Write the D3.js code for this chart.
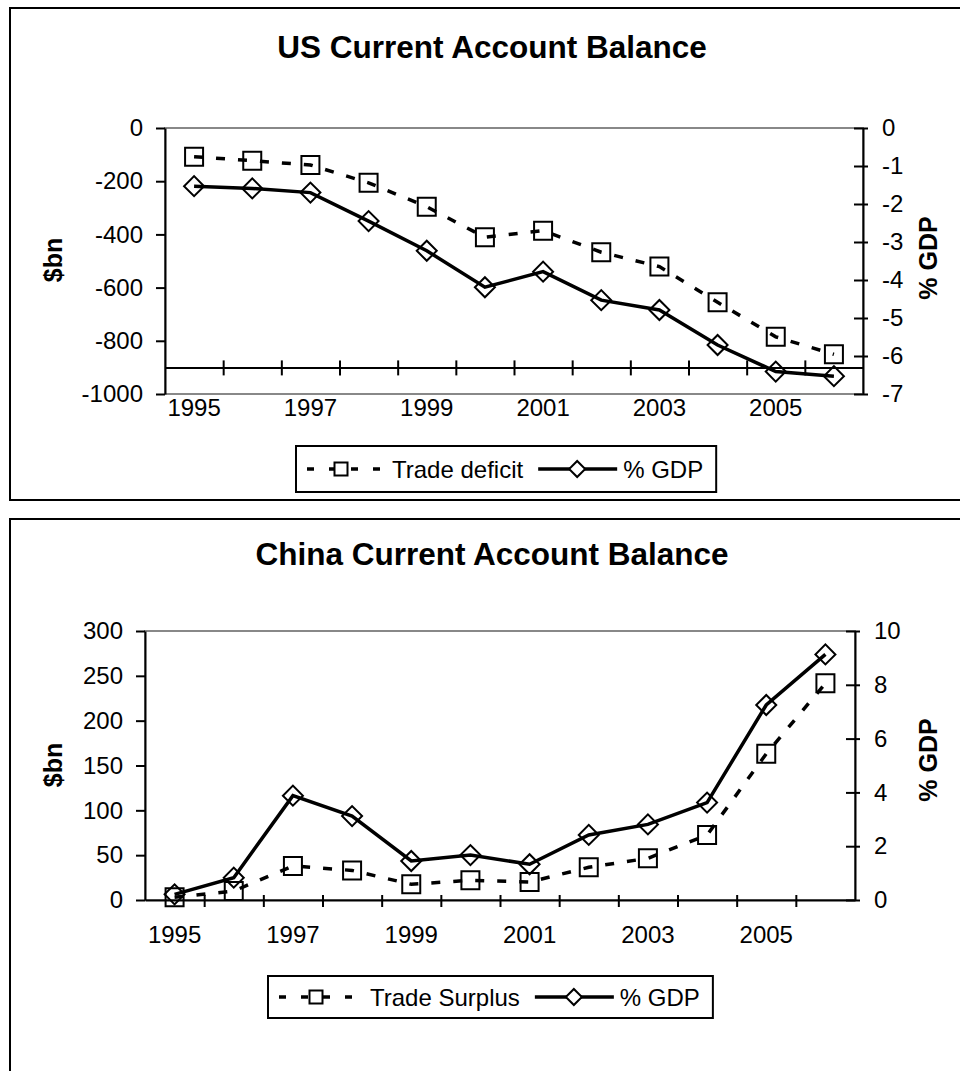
<!DOCTYPE html>
<html>
<head>
<meta charset="utf-8">
<script src="https://cdn.jsdelivr.net/npm/d3@7"></script>
<style>
body { margin: 0; background: #fff; }
svg { display: block; font-family: "Liberation Sans", Arial, sans-serif; }
</style>
</head>
<body>
<svg width="960" height="1071"></svg>
<script>
// data
const years = ['1995', '1996', '1997', '1998', '1999', '2000', '2001', '2002', '2003', '2004', '2005', '2006'];
const labelYears = ['1995', '1997', '1999', '2001', '2003', '2005'];

const usTradeDeficit = [-108, -123, -139, -206, -296, -411, -386, -467, -521, -655, -785, -851];
const usPctGdp = [-1.53, -1.59, -1.70, -2.45, -3.23, -4.19, -3.78, -4.53, -4.79, -5.71, -6.41, -6.53];
const usLeftTicks = [0, -200, -400, -600, -800, -1000];
const usRightTicks = [0, -1, -2, -3, -4, -5, -6, -7];

const chinaTradeSurplus = [3, 10, 38, 33, 17.5, 22, 20, 36.5, 46.5, 72.5, 163, 241.6];
const chinaPctGdp = [0.21, 0.83, 3.88, 3.12, 1.45, 1.67, 1.33, 2.42, 2.81, 3.62, 7.25, 9.13];
const chinaLeftTicks = [0, 50, 100, 150, 200, 250, 300];
const chinaRightTicks = [0, 2, 4, 6, 8, 10];

const svg = d3.select('svg');
const square = d3.symbol(d3.symbolSquare, 324);
const diamond = d3.symbol(d3.symbolSquare, 200);
const plain = (d) => String(d);

function styleAxis(sel) {
    sel.selectAll('path, line').attr('stroke', '#000').attr('stroke-width', 2);
    sel.selectAll('text').attr('font-size', 24).attr('fill', '#000');
    sel.attr('font-family', null);
}

function drawPanel(p) {
    const g = svg.append('g');

    g.append('rect')
        .attr('x', 10).attr('y', p.frameTop)
        .attr('width', 960).attr('height', p.frameHeight)
        .attr('fill', 'none').attr('stroke', '#000').attr('stroke-width', 2);

    g.append('text')
        .attr('x', 492).attr('y', p.titleY)
        .attr('text-anchor', 'middle')
        .attr('font-size', 31.5).attr('font-weight', 'bold')
        .text(p.title);

    const x = d3.scaleBand().domain(years).range([p.left, p.right]);
    const xc = (d) => x(d) + x.bandwidth() / 2;
    const xb = d3.scaleLinear().domain([0, years.length]).range([p.left, p.right]);
    const yL = d3.scaleLinear().domain(p.leftDomain).range([p.bottom, p.top]);
    const yR = d3.scaleLinear().domain(p.rightDomain).range([p.bottom, p.top]);

    // grey plot area border
    g.append('rect')
        .attr('x', p.left).attr('y', p.top)
        .attr('width', p.right - p.left).attr('height', p.bottom - p.top)
        .attr('fill', 'none').attr('stroke', '#888').attr('stroke-width', 2);

    // left axis
    g.append('g')
        .attr('transform', `translate(${p.left},0)`)
        .call(d3.axisLeft(yL).tickValues(p.leftTicks).tickFormat(plain).tickSize(9).tickSizeOuter(0).tickPadding(13))
        .call(styleAxis);

    // right axis, ticks cross the line
    g.append('g')
        .attr('transform', `translate(${p.right},0)`)
        .call(d3.axisRight(yR).tickValues(p.rightTicks).tickFormat(plain).tickSize(5).tickSizeOuter(0).tickPadding(14))
        .call(styleAxis);
    g.append('g')
        .attr('transform', `translate(${p.right},0)`)
        .call(d3.axisLeft(yR).tickValues(p.rightTicks).tickSize(9).tickFormat(''))
        .call(styleAxis)
        .select('.domain').remove();

    // category axis where it crosses the value axis
    const yCross = yL(p.cross);
    g.append('g')
        .attr('transform', `translate(0,${yCross})`)
        .call(d3.axisBottom(xb).tickValues(d3.range(1, years.length)).tickSize(p.tickDown).tickSizeOuter(0).tickFormat(''))
        .call(styleAxis);
    g.append('g')
        .attr('transform', `translate(0,${yCross})`)
        .call(d3.axisTop(xb).tickValues(d3.range(1, years.length)).tickSize(p.tickUp).tickFormat(''))
        .call(styleAxis)
        .select('.domain').remove();

    // year labels below the plot
    g.append('g')
        .attr('transform', `translate(0,${p.bottom})`)
        .call(d3.axisBottom(x).tickValues(labelYears).tickSize(0).tickPadding(p.labelPad))
        .call(styleAxis)
        .select('.domain').remove();

    // axis titles
    g.append('text')
        .attr('transform', `translate(53,${p.leftTitleY}) rotate(-90)`)
        .attr('text-anchor', 'middle').attr('dominant-baseline', 'central')
        .attr('font-size', 25).attr('font-weight', 'bold')
        .text('$bn');
    g.append('text')
        .attr('transform', `translate(928,${p.rightTitleY}) rotate(-90)`)
        .attr('text-anchor', 'middle').attr('dominant-baseline', 'central')
        .attr('font-size', 25).attr('font-weight', 'bold')
        .text('% GDP');

    // trade series, dashed with squares
    const tradeLine = d3.line().x((d, i) => xc(years[i])).y((d) => yL(d));
    g.append('path')
        .datum(p.trade)
        .attr('d', tradeLine)
        .attr('fill', 'none').attr('stroke', '#000')
        .attr('stroke-width', 3.5).attr('stroke-dasharray', '9,13');
    g.append('g')
        .selectAll('path')
        .data(p.trade)
        .enter()
        .append('path')
        .attr('d', square)
        .attr('transform', (d, i) => `translate(${xc(years[i])},${yL(d)})`)
        .attr('fill', 'none').attr('stroke', '#000').attr('stroke-width', 2);

    // % GDP series, solid with diamonds
    const gdpLine = d3.line().x((d, i) => xc(years[i])).y((d) => yR(d));
    g.append('path')
        .datum(p.gdp)
        .attr('d', gdpLine)
        .attr('fill', 'none').attr('stroke', '#000').attr('stroke-width', 3.5);
    g.append('g')
        .selectAll('path')
        .data(p.gdp)
        .enter()
        .append('path')
        .attr('d', diamond)
        .attr('transform', (d, i) => `translate(${xc(years[i])},${yR(d)}) rotate(45)`)
        .attr('fill', 'none').attr('stroke', '#000').attr('stroke-width', 2);

    // legend
    const lg = g.append('g');
    const ly = p.legendY + p.legendH / 2;
    const box = lg.append('rect')
        .attr('x', p.legendX).attr('y', p.legendY)
        .attr('height', p.legendH)
        .attr('fill', '#fff').attr('stroke', '#000').attr('stroke-width', 2);
    lg.append('line')
        .attr('x1', p.legendX + 11).attr('x2', p.legendX + p.sampleLen + 11)
        .attr('y1', ly).attr('y2', ly)
        .attr('stroke', '#000').attr('stroke-width', 3.5).attr('stroke-dasharray', '7,15');
    lg.append('path')
        .attr('d', d3.symbol(d3.symbolSquare, 169))
        .attr('transform', `translate(${p.legendX + 11 + p.sampleLen / 2 - 3},${ly})`)
        .attr('fill', '#fff').attr('stroke', '#000').attr('stroke-width', 2);
    const t1 = lg.append('text')
        .attr('x', p.legendX + p.sampleLen + 22).attr('y', ly)
        .attr('dominant-baseline', 'central').attr('font-size', 24)
        .text(p.tradeName);
    const end1 = p.legendX + p.sampleLen + 22 + t1.node().getComputedTextLength();
    lg.append('line')
        .attr('x1', end1 + 15).attr('x2', end1 + 94)
        .attr('y1', ly).attr('y2', ly)
        .attr('stroke', '#000').attr('stroke-width', 3.5);
    lg.append('path')
        .attr('d', d3.symbol(d3.symbolSquare, 128))
        .attr('transform', `translate(${end1 + 54},${ly}) rotate(45)`)
        .attr('fill', '#fff').attr('stroke', '#000').attr('stroke-width', 2);
    const t2 = lg.append('text')
        .attr('x', end1 + 100).attr('y', ly)
        .attr('dominant-baseline', 'central').attr('font-size', 24)
        .text('% GDP');
    const end2 = end1 + 100 + t2.node().getComputedTextLength();
    box.attr('width', end2 + 13 - p.legendX);
}

drawPanel({
    title: 'US Current Account Balance',
    tradeName: 'Trade deficit',
    trade: usTradeDeficit, gdp: usPctGdp,
    leftDomain: [-1000, 0], rightDomain: [-7, 0],
    leftTicks: usLeftTicks, rightTicks: usRightTicks,
    cross: -900, tickUp: 7, tickDown: 8,
    frameTop: 8, frameHeight: 492, titleY: 58,
    left: 165, right: 863, top: 128, bottom: 394, labelPad: 5,
    leftTitleY: 260, rightTitleY: 258,
    legendX: 296, legendY: 446, legendH: 46, sampleLen: 74
});

drawPanel({
    title: 'China Current Account Balance',
    tradeName: 'Trade Surplus',
    trade: chinaTradeSurplus, gdp: chinaPctGdp,
    leftDomain: [0, 300], rightDomain: [0, 10],
    leftTicks: chinaLeftTicks, rightTicks: chinaRightTicks,
    cross: 0, tickUp: 5, tickDown: 7,
    frameTop: 519, frameHeight: 600, titleY: 565,
    left: 145, right: 855, top: 631, bottom: 900, labelPad: 26,
    leftTitleY: 765, rightTitleY: 760,
    legendX: 268, legendY: 976, legendH: 42, sampleLen: 80
});
</script>
</body>
</html>
